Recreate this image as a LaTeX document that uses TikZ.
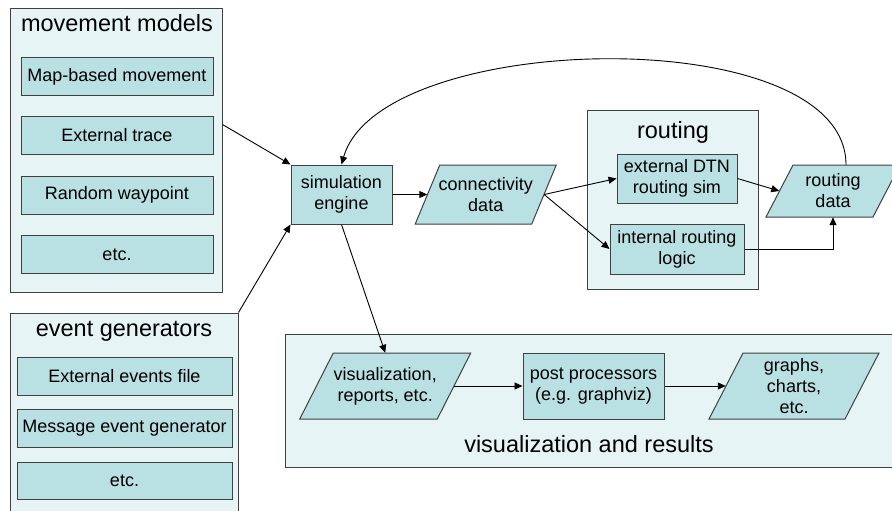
\documentclass[tikz,border=0pt]{standalone}
\usepackage{fontspec}
\setmainfont{Liberation Sans}
\usetikzlibrary{arrows.meta,calc}
\definecolor{outerfill}{HTML}{E6F4F5}
\definecolor{innerfill}{HTML}{B9E0E3}
\definecolor{edgegray}{HTML}{404040}
\tikzset{
 group/.style={draw=edgegray, fill=outerfill, line width=1pt, inner sep=0pt},
 grouptitle/.style={font=\fontsize{23.5}{28}\selectfont, anchor=base, inner sep=0pt},
 item/.style={draw=edgegray, fill=innerfill, line width=1pt, inner sep=0pt, align=center, font=\fontsize{18}{21}\selectfont},
 paratext/.style={inner sep=0pt, align=center, font=\fontsize{18}{21}\selectfont},
 para/.style={draw=edgegray, fill=innerfill, line width=1pt},
 flow/.style={draw=black, line width=0.9pt, -{Triangle[length=8pt,width=7pt]}},
}
\newcommand{\paranode}[7]{%
  \draw[para] (#2-#4-#6,#3+#5) -- (#2+#4-#6,#3+#5) -- (#2+#4+#6,#3-#5) -- (#2-#4+#6,#3-#5) -- cycle;
  \node[paratext, minimum width=2*#4pt, minimum height=2*#5pt] (#1) at (#2,#3) {#7};
}
\begin{document}
\begin{tikzpicture}[x=1pt,y=-1pt]
\useasboundingbox (0,0) rectangle (892,511);
\clip (0,0) rectangle (892,511);
% movement models
\node[group, minimum width=212pt, minimum height=283pt] (mm) at (116,150.5) {};
\node[grouptitle] (mmt) at (117,32) {movement models};
\node[item, minimum width=192pt, minimum height=38pt] (mm1) at (117,76.5) {Map-based movement};
\node[item, minimum width=192pt, minimum height=38pt] (mm2) at (117,135.5) {External trace};
\node[item, minimum width=192pt, minimum height=38pt] (mm3) at (117,195) {Random waypoint};
\node[item, minimum width=192pt, minimum height=38pt] (mm4) at (117,254.5) {etc.};
% event generators
\node[group, minimum width=228pt, minimum height=202pt] (eg) at (124,414) {};
\node[grouptitle] (egt) at (124,336) {event generators};
\node[item, minimum width=215pt, minimum height=38pt] (eg1) at (124.5,376) {External events file};
\node[item, minimum width=215pt, minimum height=38pt] (eg2) at (124.5,428) {Message event generator};
\node[item, minimum width=215pt, minimum height=37pt] (eg3) at (124.5,480.5) {etc.};
% routing
\node[group, minimum width=171pt, minimum height=179pt] (rt) at (672.5,199.5) {};
\node[grouptitle] (rtt) at (673,139) {routing};
\node[item, minimum width=120pt, minimum height=49pt] (ext) at (677,178.5) {external DTN\\routing sim};
\node[item, minimum width=134pt, minimum height=50pt] (int) at (677,249) {internal routing\\logic};
% visualization and results
\node[group, minimum width=615pt, minimum height=133pt] (vr) at (592.5,400.5) {};
\node[grouptitle] (vrt) at (589,452) {visualization and results};
% main flow
\node[item, minimum width=101pt, minimum height=59pt] (sim) at (341.5,194.5) {simulation\\engine};
\paranode{cd}{485.75}{194.5}{58.25}{29.5}{12.25}{connectivity\\data}
\paranode{rd}{833}{191}{53.5}{26}{13.5}{routing\\data}
\paranode{vis}{385.25}{386}{68.75}{33}{16.75}{visualization,\\reports, etc.}
\node[item, minimum width=141pt, minimum height=66pt] (pp) at (593.5,386) {post processors\\(e.g. graphviz)};
\paranode{gr}{794}{386}{68}{33}{17}{graphs,\\charts,\\etc.}
% connectors
\draw[flow] ([yshift=26pt]mm.east) -- (sim.north west);
\draw[flow] (eg.north east) -- (sim.south west);
\draw[flow] (sim.east) -- (cd.west);
\draw[flow] (cd.east) -- (ext.west);
\draw[flow] (cd.east) -- (int.west);
\draw[flow] (ext.east) -- (rd.west);
\draw[flow] (int.east) -| (rd.south);
\draw[flow] ([xshift=13pt]rd.north) .. controls +(0,-145) and +(38.5,-135) .. (sim.north);
\draw[flow] (sim.south) -- (vis.north);
\draw[flow] (vis.east) -- (pp.west);
\draw[flow] (pp.east) -- (gr.west);
\end{tikzpicture}
\end{document}
